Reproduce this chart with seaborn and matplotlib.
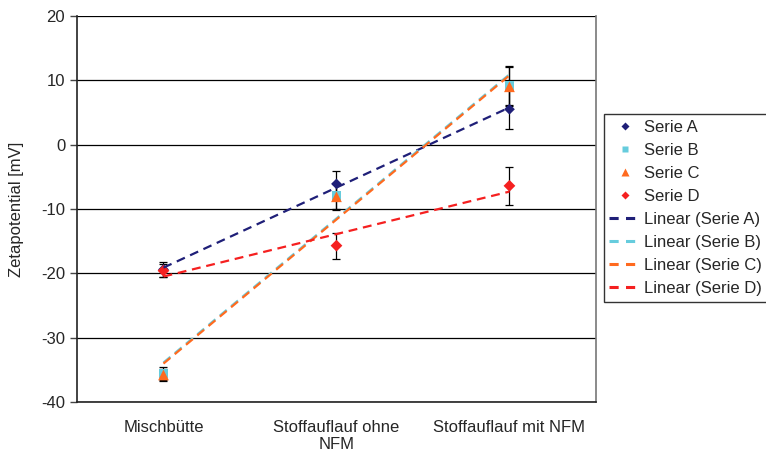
import numpy as np
import pandas as pd
import matplotlib
matplotlib.use("Agg")
import matplotlib.pyplot as plt
import seaborn as sns
from matplotlib.lines import Line2D

categories = ["Mischbütte", "Stoffauflauf ohne\nNFM", "Stoffauflauf mit NFM"]
series_names = ["Serie A", "Serie B", "Serie C", "Serie D"]
serie_a = [-19.4, -6.1, 5.5]
serie_b = [-35.6, -8.0, 9.2]
serie_c = [-35.8, -8.1, 9.0]
serie_d = [-19.6, -15.7, -6.4]
err_a = [1.1, 2.0, 3.0]
err_b = [1.0, 2.0, 3.0]
err_c = [1.0, 2.0, 3.0]
err_d = [1.0, 2.0, 3.0]

values = [serie_a, serie_b, serie_c, serie_d]
errors = [err_a, err_b, err_c, err_d]
colors = ["#1F1F78", "#66CCDD", "#FF6A1F", "#F52020"]
markers = ["D", "s", "^", "D"]
sizes = [30, 45, 60, 36]

rows = []
for name, vals in zip(series_names, values):
    for i, v in enumerate(vals):
        rows.append({"serie": name, "x": i, "y": v})
df = pd.DataFrame(rows)

sns.set_style("white")
plt.rcParams["font.family"] = ["Liberation Sans", "DejaVu Sans"]
plt.rcParams["axes.unicode_minus"] = False
fs = 12

fig = plt.figure(figsize=(7.66, 4.57), dpi=100)
ax = fig.add_axes([0.1005, 0.1204, 0.6775, 0.8446])

dash = (4, 2.6)
# error bars first
for name, err, col in zip(series_names, errors, colors):
    sub = df[df.serie == name]
    ax.errorbar(sub.x, sub.y, yerr=err, fmt="none", ecolor="black",
                elinewidth=0.9, capsize=3, capthick=0.9, zorder=2)

for name, col, m, s in zip(series_names, colors, markers, sizes):
    sub = df[df.serie == name]
    sns.scatterplot(data=sub, x="x", y="y", marker=m, color=col, s=s,
                    edgecolor="none", ax=ax, zorder=3)

for name, col in zip(series_names, colors):
    sub = df[df.serie == name]
    sns.regplot(data=sub, x="x", y="y", scatter=False, ci=None, ax=ax,
                line_kws={"color": col, "lw": 1.6, "dashes": dash, "zorder": 4})

ax.set_xlim(-0.5, 2.5)
ax.set_ylim(-40, 20)
ax.set_yticks(range(-40, 21, 10))
ax.set_xticks(range(3))
ax.set_xticklabels(categories)
ax.set_xticks([-0.5, 0.5, 1.5, 2.5], minor=True)
ax.tick_params(axis="x", which="major", length=0, pad=13, labelsize=fs)
ax.tick_params(axis="x", which="minor", length=5, width=1, color="#444444")
ax.tick_params(axis="y", length=5, width=1, left=True, labelsize=fs, color="#444444")
ax.set_xlabel("")
ax.set_ylabel("Zetapotential [mV]", fontsize=fs, labelpad=12)
ax.yaxis.grid(True, color="black", lw=0.9)
ax.set_axisbelow(True)

for side in ["left", "bottom"]:
    ax.spines[side].set_color("#222222")
    ax.spines[side].set_linewidth(1.2)
ax.spines["right"].set_color("#777777")
ax.spines["right"].set_linewidth(1.2)
ax.spines["top"].set_visible(False)

handles = []
for name, col, m, s in zip(series_names, colors, markers, sizes):
    handles.append(Line2D([], [], ls="none", marker=m, color=col, markersize=np.sqrt(s) * 0.7,
                          markeredgecolor="none", label=name))
for name, col in zip(series_names, colors):
    handles.append(Line2D([], [], color=col, lw=2.2, dashes=(3.0, 2.4),
                          label=f"Linear ({name})"))

leg = fig.legend(handles=handles, loc="upper left", bbox_to_anchor=(0.788, 0.75),
                 frameon=True, fancybox=False, fontsize=fs, handlelength=1.9,
                 handletextpad=0.15, labelspacing=0.48, borderpad=0.35,
                 borderaxespad=0, handleheight=0.7)
leg.get_frame().set_edgecolor("black")
leg.get_frame().set_linewidth(1)

fig.savefig("out.png", dpi=100)
